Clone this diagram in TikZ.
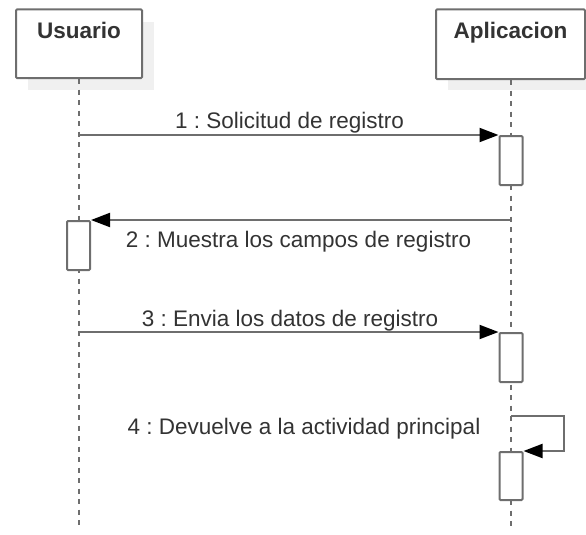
\documentclass[tikz,border=0pt]{standalone}
\usepackage{fontspec}
\setmainfont{Liberation Sans}
\usetikzlibrary{arrows.meta}
\frenchspacing
\definecolor{linegray}{RGB}{110,110,110}
\definecolor{txtgray}{RGB}{51,51,51}
\definecolor{shadowgray}{RGB}{240,240,240}
\tikzset{
  actor/.style={draw=linegray, line width=2pt, rounded corners=1pt, fill=white, inner sep=0pt},
  title/.style={anchor=base, text=txtgray, font=\fontsize{22.5}{27}\selectfont\bfseries, inner sep=0pt},
  lbl/.style={anchor=base, text=txtgray, font=\fontsize{22.5}{27}\selectfont\frenchspacing, inner sep=0pt},
  lifeline/.style={draw=linegray, line width=2pt, dash pattern=on 5pt off 5.5pt},
  bar/.style={draw=linegray, line width=2pt, fill=white, rounded corners=1pt, minimum width=23pt, inner sep=0pt, anchor=north},
  msg/.style={draw=linegray, line width=2pt, -{Triangle[length=19pt,width=14pt,fill=black,color=black]}},
}
\begin{document}
\begin{tikzpicture}[x=1pt,y=-1pt]
\useasboundingbox (0,0) rectangle (586,535);
% shadows
\fill[shadowgray] (28,22) rectangle (154,90);
\fill[shadowgray] (448,22) rectangle (586,90);
% actor boxes
\node[actor, minimum width=126pt, minimum height=68.5pt] (usr) at (79,43.75) {};
\node[actor, minimum width=149pt, minimum height=69.5pt] (app) at (510.5,44.25) {};
\node[title] (usrt) at (79,39) {Usuario};
\node[title] (appt) at (510.5,39) {Aplicacion};
% lifelines
\coordinate (usrend) at (78.5,530);
\coordinate (append) at (511,530);
\draw[lifeline] (usr.south -| usrend) -- (usrend);
\draw[lifeline] (app.south -| append) -- (append);
% activation bars
\node[bar, minimum height=49pt] (b1) at (511,135) {};
\node[bar, minimum height=49pt] (b2) at (78.5,220) {};
\node[bar, minimum height=49pt] (b3) at (511,332) {};
\node[bar, minimum height=48pt] (b4) at (511,451) {};
% message anchors on lifelines
\coordinate (m1s) at (78.5,135);
\coordinate (m2s) at (511,220);
\coordinate (m3s) at (78.5,332);
\coordinate (m4s) at (511,416);
\coordinate (m4r) at (564,416);
% messages
\draw[msg] (m1s) -- (b1.north west);
\draw[msg] (m2s) -- (b2.north east);
\draw[msg] (m3s) -- (b3.north west);
\draw[msg] (m4s) -- (m4r) -- (m4r |- b4.north east) -- (b4.north east);
% labels
\node[lbl] (l1) at (289.5,128) {1 : Solicitud de registro};
\node[lbl] (l2) at (298.5,247) {2 : Muestra los campos de registro};
\node[lbl] (l3) at (290,326) {3 : Envia los datos de registro};
\node[lbl] (l4) at (304,434) {4 : Devuelve a la actividad principal};
\end{tikzpicture}
\end{document}
